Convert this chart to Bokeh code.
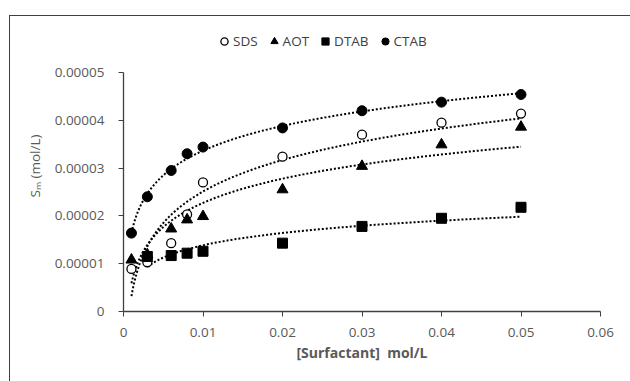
import numpy as np
from bokeh.plotting import figure
from bokeh.models import Legend, LegendItem, Range1d, FixedTicker, InlineStyleSheet
from bokeh.embed import file_html
from bokeh.resources import INLINE

# ---- data ----
conc = [0.001, 0.003, 0.006, 0.008, 0.01, 0.02, 0.03, 0.04, 0.05]
sds = [0.0000089, 0.0000103, 0.0000143, 0.0000203, 0.0000270, 0.0000324, 0.0000370, 0.0000395, 0.0000414]
aot = [0.0000108, 0.0000119, 0.0000173, 0.0000192, 0.0000199, 0.0000255, 0.0000304, 0.0000349, 0.0000386]
dtab_conc = [0.003, 0.006, 0.008, 0.01, 0.02, 0.03, 0.04, 0.05]
dtab = [0.0000115, 0.0000117, 0.0000122, 0.0000126, 0.0000143, 0.0000178, 0.0000195, 0.0000218]
ctab = [0.0000164, 0.0000240, 0.0000295, 0.0000330, 0.0000344, 0.0000384, 0.0000420, 0.0000438, 0.0000454]

x_ticks = [0, 0.01, 0.02, 0.03, 0.04, 0.05, 0.06]
x_tick_labels = ["0", "0.01", "0.02", "0.03", "0.04", "0.05", "0.06"]
y_ticks = [0, 0.00001, 0.00002, 0.00003, 0.00004, 0.00005]
y_tick_labels = ["0", "0.00001", "0.00002", "0.00003", "0.00004", "0.00005"]

FONT = "Open Sans"
TXT = "#595959"
LINE = "#404040"

# layout (pixels): frame spans y 20..311, the y axis itself only 72..311 (0 .. 0.00005);
# the extra frame room on top holds the legend so it is not clipped
W, H = 630, 381
TOP, BOTTOM, AXIS_TOP = 20, 70, 72
frame_h = H - TOP - BOTTOM
axis_h = H - BOTTOM - AXIS_TOP
y_end = y_ticks[-1] * frame_h / axis_h

p = figure(width=W, height=H, output_backend="svg", toolbar_location=None,
           x_range=Range1d(0, 0.06), y_range=Range1d(0, y_end),
           min_border_left=123, min_border_right=30, min_border_top=TOP, min_border_bottom=BOTTOM)
# chart-area border (left and top edges visible, the rest runs off the window)
p.stylesheets = [InlineStyleSheet(css=(
    ":host::after { content: ''; position: absolute; left: 9px; top: 15px; right: 0; bottom: 0; "
    "border-left: 1px solid " + LINE + "; border-top: 1px solid " + LINE + "; "
    "pointer-events: none; z-index: 10; }"))]
p.outline_line_color = None
p.grid.visible = False
p.background_fill_color = "white"
p.border_fill_color = "white"

for ax, ticks, labels in ((p.xaxis[0], x_ticks, x_tick_labels), (p.yaxis[0], y_ticks, y_tick_labels)):
    ax.ticker = FixedTicker(ticks=ticks)
    ax.major_label_overrides = {t: l for t, l in zip(ticks, labels)}
    ax.minor_tick_line_color = None
    ax.major_tick_in = 0
    ax.major_tick_out = 5
    ax.axis_line_color = LINE
    ax.axis_line_width = 1.3
    ax.major_tick_line_color = LINE
    ax.major_label_text_font = FONT
    ax.major_label_text_font_size = "13.5px"
    ax.major_label_text_color = TXT
    ax.axis_label_text_font = FONT
    ax.axis_label_text_color = TXT

p.yaxis.bounds = (y_ticks[0], y_ticks[-1])
p.yaxis.major_label_standoff = 14
p.xaxis.major_label_standoff = 11
p.xaxis.axis_label = "[Surfactant]\u00a0 mol/L"
p.xaxis.axis_label_text_font_size = "14px"
p.xaxis.axis_label_text_font_style = "bold"
p.xaxis.axis_label_standoff = 3
p.yaxis.axis_label = "S\u2098 (mol/L)"
p.yaxis.axis_label_text_font_size = "13.5px"
p.yaxis.axis_label_text_font_style = "normal"
p.yaxis.axis_label_standoff = 8


def trend(x, y):
    x = np.asarray(x); y = np.asarray(y)
    a, b = np.polyfit(np.log(x), y, 1)
    xx = np.linspace(x.min(), x.max(), 300)
    return xx, a * np.log(xx) + b


series = [("SDS", conc, sds), ("AOT", conc, aot), ("DTAB", dtab_conc, dtab), ("CTAB", conc, ctab)]
for name, xs, ys in series:
    tx, ty = trend(xs, ys)
    p.line(tx, ty, line_color="black", line_width=2, line_dash="2 2")

r_sds = p.scatter(conc, sds, marker="circle", size=9, fill_color="white", line_color="black", line_width=1.3)
r_aot = p.scatter(conc, aot, marker="triangle", size=11, fill_color="black", line_color="black")
r_dtab = p.scatter(dtab_conc, dtab, marker="square", size=10, fill_color="black", line_color="black")
r_ctab = p.scatter(conc, ctab, marker="circle", size=10, fill_color="black", line_color="black")

legend = Legend(items=[LegendItem(label="SDS", renderers=[r_sds]),
                       LegendItem(label="AOT", renderers=[r_aot]),
                       LegendItem(label="DTAB", renderers=[r_dtab]),
                       LegendItem(label="CTAB", renderers=[r_ctab])],
                orientation="horizontal", location=(92, 261),
                label_text_font=FONT, label_text_font_size="13.5px", label_text_color="#404040",
                glyph_width=18, glyph_height=18, label_standoff=0, spacing=7,
                padding=0, margin=0, border_line_alpha=0, background_fill_alpha=0)
p.add_layout(legend, "center")

open("out.html", "w").write(file_html(p, INLINE))
